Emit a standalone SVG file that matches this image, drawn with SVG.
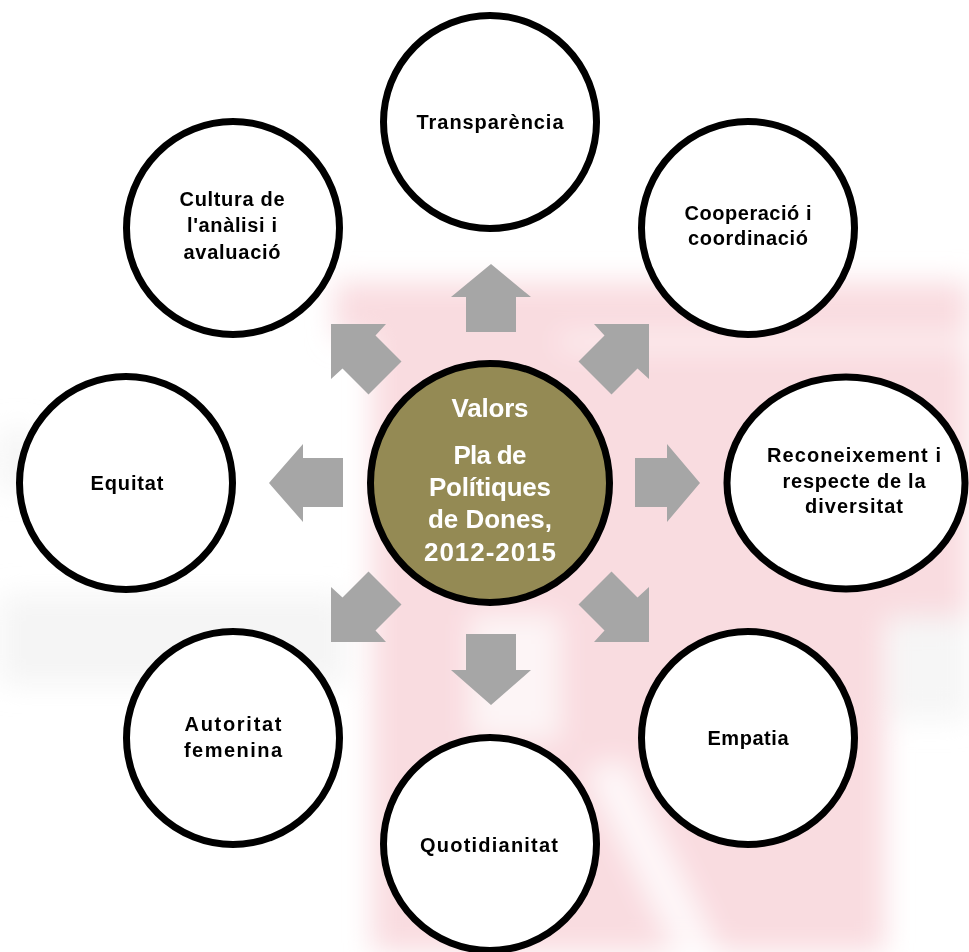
<svg xmlns="http://www.w3.org/2000/svg" width="969" height="952" viewBox="0 0 969 952">
  <defs>
    <filter id="haze" x="-20%" y="-20%" width="140%" height="140%">
      <feGaussianBlur stdDeviation="14"/>
    </filter>
    <style>
      .ring { fill: #ffffff; stroke: #000000; stroke-width: 7; }
      .hub { fill: #948a54; stroke: #000000; stroke-width: 7; }
      .arrow { fill: #a6a6a6; stroke: none; }
      .lbl { font-family: "Liberation Sans", Arial, sans-serif; font-size: 20px; font-weight: bold; fill: #000000; text-anchor: middle; }
      .hubtxt { font-family: "Liberation Sans", Arial, sans-serif; font-size: 26px; font-weight: bold; fill: #ffffff; text-anchor: middle; }
    </style>
  </defs>

  <rect width="969" height="952" fill="#ffffff"/>

  <!-- faded watermark behind the diagram -->
  <g id="watermark" filter="url(#haze)">
    <path d="M335,282 L969,282 L969,620 L885,620 L885,952 L372,952 L372,338 L335,338 Z" fill="#f9dce0"/>
    <rect x="560" y="336" width="409" height="12" fill="#ffffff" opacity="0.7"/>
    <rect x="470" y="615" width="90" height="125" fill="#ffffff" opacity="0.7"/>
    <path d="M585,770 L625,760 L720,952 L675,952 Z" fill="#ffffff" opacity="0.8"/>
    <rect x="0" y="595" width="345" height="90" fill="#eeeeee" opacity="0.6"/>
    <rect x="0" y="430" width="36" height="60" fill="#eeeeee" opacity="0.6"/>
    <rect x="890" y="615" width="79" height="105" fill="#f2f2f2" opacity="0.7"/>
  </g>

  <!-- connectors: block arrows radiating from the hub -->
  <g id="connectors">
    <polygon class="arrow" points="491,264 531,297 516,297 516,332 466,332 466,297 451,297"/>
    <polygon class="arrow" points="466,634 516,634 516,670 531,670 491,705 451,670 466,670"/>
    <polygon class="arrow" points="269,483 303,444 303,458 343,458 343,507 303,507 303,522"/>
    <polygon class="arrow" points="635,458 667,458 667,444 700,483 667,522 667,507 635,507"/>
    <polygon class="arrow" points="331,324 386,324 375.5,335.5 401.5,361.5 368.5,394.5 342.5,368.5 331,379"/>
    <polygon class="arrow" points="649,324 594,324 604.5,335.5 578.5,361.5 611.5,394.5 637.5,368.5 649,379"/>
    <polygon class="arrow" points="331,642 386,642 375.5,630.5 401.5,604.5 368.5,571.5 342.5,597.5 331,587"/>
    <polygon class="arrow" points="649,642 594,642 604.5,630.5 578.5,604.5 611.5,571.5 637.5,597.5 649,587"/>
  </g>

  <g id="hub">
    <circle class="hub" cx="490" cy="483" r="119.5"/>
    <text class="hubtxt" x="490" y="417" textLength="77">Valors</text>
    <text class="hubtxt" x="490" y="464" textLength="73">Pla de</text>
    <text class="hubtxt" x="490" y="496" textLength="122">Polítiques</text>
    <text class="hubtxt" x="490" y="528" textLength="124">de Dones,</text>
    <text class="hubtxt" x="490" y="561" textLength="132">2012-2015</text>
  </g>

  <g id="transparencia">
    <circle class="ring" cx="490" cy="122" r="106.5"/>
    <text class="lbl" x="490" y="129" textLength="147">Transparència</text>
  </g>

  <g id="cooperacio">
    <circle class="ring" cx="748" cy="228" r="106.5"/>
    <text class="lbl" x="748" y="220" textLength="127">Cooperació i</text>
    <text class="lbl" x="748" y="245" textLength="120">coordinació</text>
  </g>

  <g id="reconeixement">
    <ellipse class="ring" cx="846" cy="483" rx="119" ry="106"/>
    <text class="lbl" x="854" y="462" textLength="174">Reconeixement i</text>
    <text class="lbl" x="854" y="488" textLength="143">respecte de la</text>
    <text class="lbl" x="854" y="513" textLength="98">diversitat</text>
  </g>

  <g id="empatia">
    <circle class="ring" cx="748" cy="738" r="106.5"/>
    <text class="lbl" x="748" y="745" textLength="81">Empatia</text>
  </g>

  <g id="quotidianitat">
    <circle class="ring" cx="490" cy="844" r="106.5"/>
    <text class="lbl" x="489" y="852" textLength="138">Quotidianitat</text>
  </g>

  <g id="autoritat">
    <circle class="ring" cx="233" cy="738" r="106.5"/>
    <text class="lbl" x="233" y="731" textLength="97">Autoritat</text>
    <text class="lbl" x="233" y="757" textLength="98">femenina</text>
  </g>

  <g id="equitat">
    <circle class="ring" cx="126" cy="483" r="106.5"/>
    <text class="lbl" x="127" y="490" textLength="73">Equitat</text>
  </g>

  <g id="cultura">
    <circle class="ring" cx="233" cy="228" r="106.5"/>
    <text class="lbl" x="232" y="206" textLength="105">Cultura de</text>
    <text class="lbl" x="232" y="232" textLength="90">l'anàlisi i</text>
    <text class="lbl" x="232" y="259" textLength="97">avaluació</text>
  </g>
</svg>
